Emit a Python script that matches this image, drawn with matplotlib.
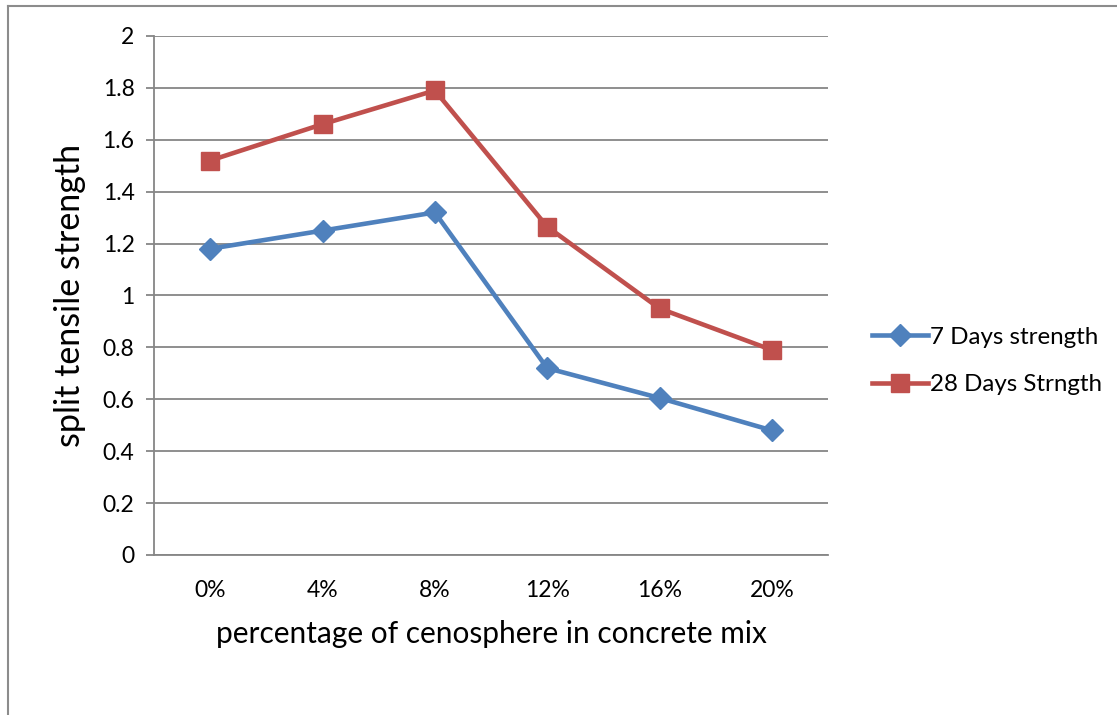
import matplotlib.pyplot as plt
from matplotlib.lines import Line2D

plt.rcParams['font.family'] = ['Lato', 'DejaVu Sans']

categories = ['0%', '4%', '8%', '12%', '16%', '20%']
strength_7 = [1.18, 1.25, 1.32, 0.72, 0.605, 0.48]
strength_28 = [1.52, 1.66, 1.79, 1.265, 0.95, 0.79]
y_ticks = [0, 0.2, 0.4, 0.6, 0.8, 1, 1.2, 1.4, 1.6, 1.8, 2]

blue = '#4F81BD'
red = '#C0504D'
grid_col = '#868686'

fig = plt.figure(figsize=(11.17, 7.15), dpi=100)

# outer chart border (left and top edges only show)
fig.add_artist(Line2D([0.0072, 0.0072], [0, 0.9916], transform=fig.transFigure,
                      color='#8c8c8c', lw=1.5))
fig.add_artist(Line2D([0.0072, 1.0], [0.9916, 0.9916], transform=fig.transFigure,
                      color='#8c8c8c', lw=1.5))

ax = fig.add_axes([0.1379, 0.2238, 0.6034, 0.7259])
x = list(range(len(categories)))

ax.plot(x, strength_7, color=blue, lw=3.3, marker='D', markersize=11.5,
        label='7 Days strength', solid_joinstyle='round', zorder=3)
ax.plot(x, strength_28, color=red, lw=3.3, marker='s', markersize=13,
        label='28 Days Strngth', solid_joinstyle='round', zorder=3)

ax.set_xlim(-0.5, 5.5)
ax.set_ylim(0, 2)
ax.set_yticks(y_ticks)
ax.set_yticklabels([f'{v:g}' for v in y_ticks])
ax.set_xticks(x)
ax.set_xticklabels(categories)

ax.grid(axis='y', color=grid_col, lw=1.3)
ax.set_axisbelow(True)
for side in ['top', 'right']:
    ax.spines[side].set_visible(False)
ax.spines['left'].set_color(grid_col)
ax.spines['bottom'].set_color(grid_col)
ax.spines['left'].set_linewidth(1.3)
ax.spines['bottom'].set_linewidth(1.3)
ax.tick_params(axis='y', length=6, color=grid_col, width=1.3, labelsize=16.5, pad=8)
ax.tick_params(axis='x', length=0, labelsize=16.5, pad=18)

ax.set_xlabel('percentage of cenosphere in concrete mix', fontsize=21.5, labelpad=14)
ax.set_ylabel('split tensile strength', fontsize=24.5, labelpad=12)

ax.legend(loc='center left', bbox_to_anchor=(0.772, 0.495), bbox_transform=fig.transFigure,
          frameon=False, fontsize=17.4, handlelength=2.3, handletextpad=0.1,
          labelspacing=1.1, borderaxespad=0)

fig.savefig('out.png', dpi=100)
